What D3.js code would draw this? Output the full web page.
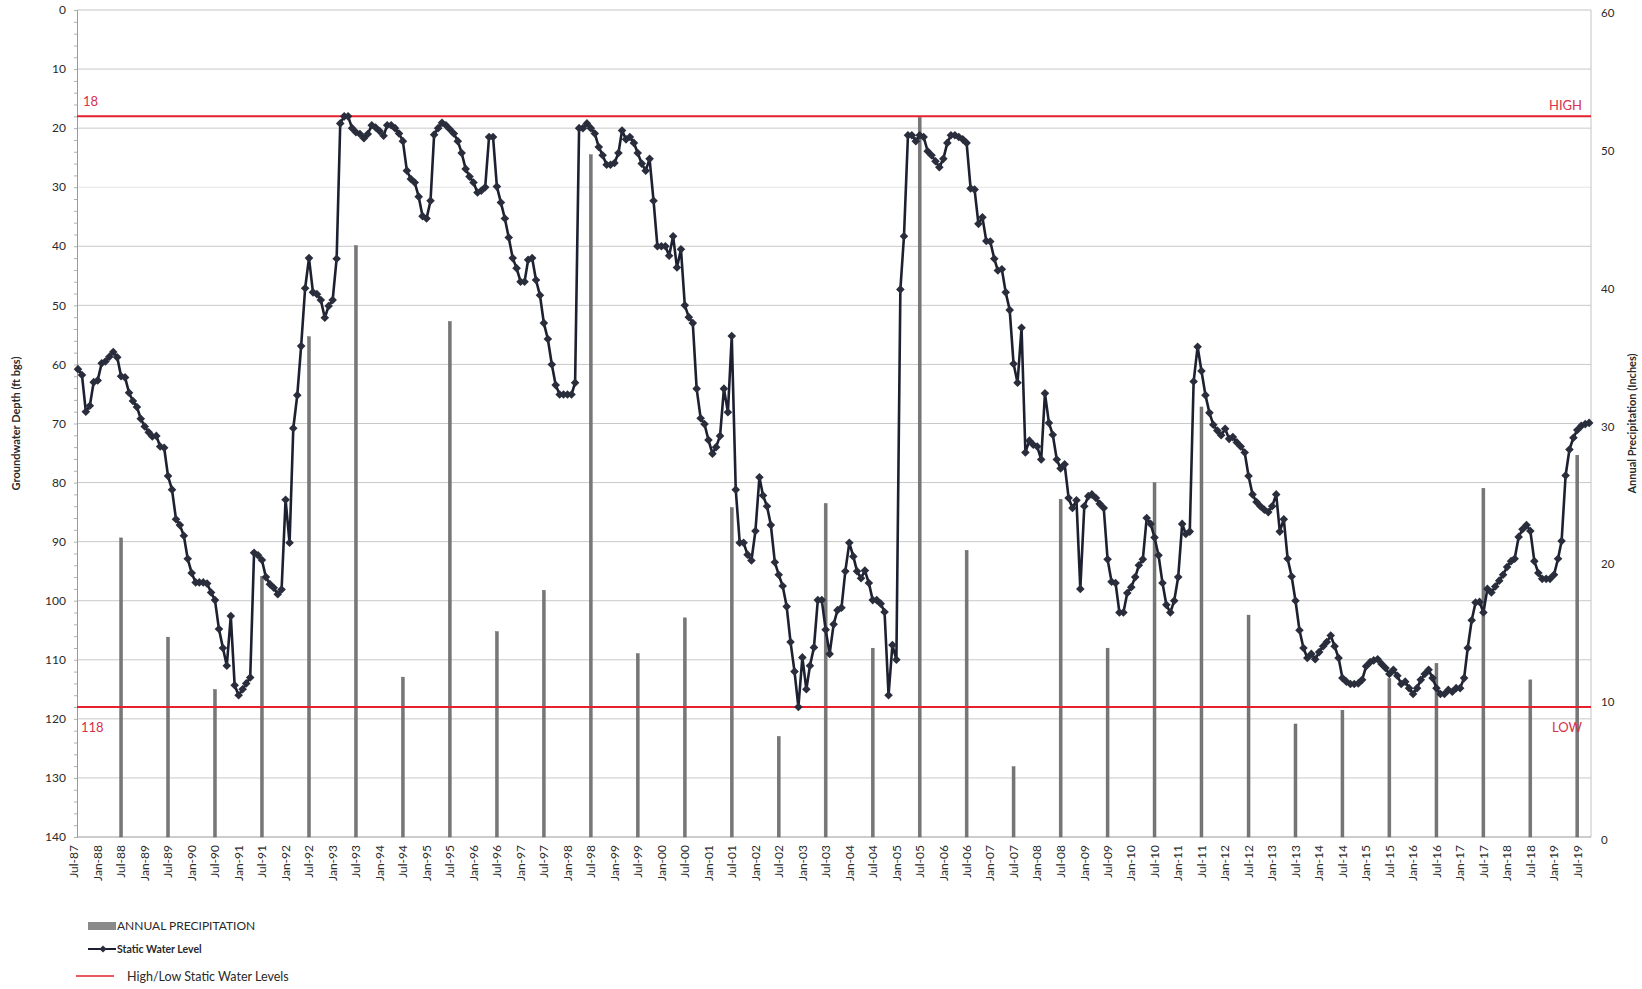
<!DOCTYPE html>
<html><head><meta charset="utf-8">
<script src="https://cdn.jsdelivr.net/npm/d3@7"></script>
<style>
body{margin:0;background:#fff;}
svg{display:block;font-family:"Lato","Liberation Sans",sans-serif;}
</style></head><body>
<svg id="chart" width="1642" height="989"></svg>
<script>
// ---------- DATA ----------
const levelStart = "1987-08"; // first monthly reading
const levelValues = [
 60.8,61.8,68.0,67.0,63.0,62.7,59.8,59.5,58.7,57.9,58.8,62.0,
 62.2,64.8,66.2,67.2,69.2,70.5,71.5,72.2,72.1,73.9,74.1,78.9,
 81.2,86.2,87.2,89.0,92.9,95.3,96.9,96.9,96.9,97.1,98.6,99.9,
 104.8,108.0,111.0,102.6,114.3,116.0,115.0,114.0,113.0,91.9,92.3,93.1,
 96.0,97.2,97.8,98.9,98.1,82.9,90.2,70.8,65.2,56.9,47.1,42.0,
 47.8,48.1,49.1,52.1,50.1,49.1,42.1,19.2,18.0,18.0,20.0,20.7,
 21.0,21.7,21.0,19.5,19.9,20.5,21.3,19.5,19.5,20.0,20.9,22.2,
 27.2,28.6,29.2,31.6,34.9,35.3,32.3,21.1,20.0,19.1,19.5,20.2,
 20.9,22.2,24.2,26.9,28.2,29.2,30.9,30.6,30.0,21.5,21.5,29.9,
 32.6,35.3,38.5,42.0,43.7,46.0,46.0,42.3,42.0,45.7,48.3,53.0,
 55.7,60.0,63.5,65.1,65.1,65.1,65.1,63.1,20.0,20.0,19.2,20.0,
 20.9,23.2,24.6,26.2,26.2,25.9,24.2,20.4,21.9,21.5,22.5,24.2,
 26.0,27.2,25.2,32.3,40.0,40.0,40.0,41.6,38.3,43.6,40.5,50.0,
 52.0,53.0,64.1,69.1,70.1,72.8,75.1,74.0,72.1,64.1,68.1,55.2,
 81.2,90.2,90.2,92.2,93.2,88.2,79.1,82.2,84.0,87.2,93.5,95.6,
 97.5,101.0,107.0,112.0,118.0,109.6,115.0,111.0,107.9,99.9,99.9,104.9,
 109.0,104.0,101.6,101.2,95.0,90.2,92.5,95.0,96.2,94.9,97.0,99.9,
 99.9,100.5,101.9,116.0,107.5,110.0,47.3,38.3,21.2,21.2,22.2,21.2,
 21.5,23.9,24.6,25.6,26.6,25.2,22.5,21.2,21.2,21.5,21.9,22.5,
 30.2,30.4,36.2,35.1,39.1,39.2,42.1,44.1,43.9,47.8,50.8,59.9,
 63.1,53.8,74.9,72.9,73.6,73.9,76.1,64.9,69.9,71.9,76.1,77.6,
 76.9,82.6,84.3,83.0,98.0,84.0,82.3,82.0,82.6,83.6,84.3,93.0,
 96.8,97.0,102.0,102.0,98.7,97.7,96.0,94.0,93.0,86.0,87.0,89.3,
 92.3,97.0,100.7,102.0,100.0,96.0,87.0,88.7,88.3,62.9,57.0,61.1,
 65.2,68.2,70.2,71.2,72.0,70.9,72.6,72.3,73.2,73.9,74.9,78.9,
 82.0,83.3,84.0,84.6,85.0,84.0,82.0,88.3,86.2,92.9,95.9,100.0,
 105.0,108.0,109.7,109.0,109.9,108.7,107.7,107.0,105.9,107.7,109.7,113.1,
 113.7,114.1,114.1,114.0,113.4,111.1,110.4,110.1,109.9,110.7,111.4,112.4,
 111.7,112.7,114.1,113.7,114.8,115.8,114.8,113.4,112.4,111.7,113.1,114.8,
 115.8,115.8,115.1,115.4,114.8,114.8,113.1,108.0,103.3,100.3,100.2,102.0,
 98.0,98.6,97.6,96.6,95.6,94.3,93.3,92.9,89.2,87.9,87.2,88.2,
 93.3,95.3,96.3,96.3,96.3,95.6,92.9,89.9,78.8,74.4,72.4,71.1,
 70.4,70.1,69.9
];
const precipYears = [1988,1989,1990,1991,1992,1993,1994,1995,1996,1997,1998,1999,2000,2001,2002,2003,
 2004,2005,2006,2007,2008,2009,2010,2011,2012,2013,2014,2015,2016,2017,2018,2019];
const precipValues = [21.7,14.5,10.7,18.9,36.3,42.9,11.6,37.4,14.9,17.9,49.5,13.3,15.9,23.9,7.3,24.2,
 13.7,52.2,20.8,5.1,24.5,13.7,25.7,31.2,16.1,8.2,9.2,11.5,12.6,25.3,11.4,27.7];
const leftTicks = [0,10,20,30,40,50,60,70,80,90,100,110,120,130,140];
const rightTicks = [0,10,20,30,40,50,60];
const xTickLabels = ["Jul-87","Jan-88","Jul-88","Jan-89","Jul-89","Jan-90","Jul-90","Jan-91","Jul-91","Jan-92",
 "Jul-92","Jan-93","Jul-93","Jan-94","Jul-94","Jan-95","Jul-95","Jan-96","Jul-96","Jan-97","Jul-97","Jan-98",
 "Jul-98","Jan-99","Jul-99","Jan-00","Jul-00","Jan-01","Jul-01","Jan-02","Jul-02","Jan-03","Jul-03","Jan-04",
 "Jul-04","Jan-05","Jul-05","Jan-06","Jul-06","Jan-07","Jul-07","Jan-08","Jul-08","Jan-09","Jul-09","Jan-10",
 "Jul-10","Jan-11","Jul-11","Jan-12","Jul-12","Jan-13","Jul-13","Jan-14","Jul-14","Jan-15","Jul-15","Jan-16",
 "Jul-16","Jan-17","Jul-17","Jan-18","Jul-18","Jan-19","Jul-19"];
const highLevel = 18, lowLevel = 118;
const highLabel = "HIGH", lowLabel = "LOW";

// ---------- LAYOUT ----------
const svg = d3.select("#chart");
const plotL = 77, plotR = 1591, plotT = 10, plotB = 837;
const x = d3.scaleTime().domain([new Date(1987,6,1), new Date(2019,6,1)]).range([74, 1577.3]);
const yL = d3.scaleLinear().domain([0,140]).range([plotT, plotB]);
const yR = d3.scaleLinear().domain([0,60]).range([plotB, plotT]);
const parseMonth = d3.timeParse("%Y-%m");
const parseTick = d3.timeParse("%b-%y");
const start = parseMonth(levelStart);
const level = levelValues.map((v,i)=>({date:d3.timeMonth.offset(start,i), v}));
const precip = precipYears.map((yr,i)=>({date:new Date(yr,6,1), v:precipValues[i]}));

const textCol = "#2a2a2a";
const red = "#e3222e", redText = "#d8304c";

// gridlines
svg.append("g").selectAll("line").data(leftTicks.filter(t=>t>0 && t<140)).join("line")
  .attr("x1",plotL).attr("x2",plotR).attr("y1",d=>yL(d)).attr("y2",d=>yL(d))
  .attr("stroke",d=>d===30?"#e4e4e4":"#c9c9c9").attr("stroke-width",1);
// border top & right
svg.append("line").attr("x1",plotL).attr("x2",plotR).attr("y1",plotT).attr("y2",plotT).attr("stroke","#c4c4c4");
svg.append("line").attr("x1",plotR).attr("x2",plotR).attr("y1",plotT).attr("y2",plotB).attr("stroke","#c4c4c4");

// left axis
const gL = svg.append("g").attr("transform",`translate(${plotL},0)`)
  .call(d3.axisLeft(yL).tickValues(d3.range(0,141,2)).tickSize(3).tickFormat(""));
gL.select(".domain").attr("stroke","#9a9a9a");
gL.selectAll(".tick line").attr("stroke","#b0b0b0");
svg.append("g").selectAll("text").data(leftTicks).join("text")
  .attr("x",66).attr("y",d=>yL(d)).attr("dy","0.35em").attr("text-anchor","end")
  .attr("font-size",12).attr("fill",textCol).text(d=>d);

// right axis labels
svg.append("g").selectAll("text").data(rightTicks).join("text")
  .attr("x",1601).attr("y",d=>yR(d)+3).attr("dy","0.35em").attr("text-anchor","start")
  .attr("font-size",11.5).attr("fill",textCol).text(d=>d);

// bottom axis
svg.append("line").attr("x1",plotL).attr("x2",plotR).attr("y1",plotB).attr("y2",plotB).attr("stroke","#9a9a9a");
svg.append("g").selectAll("text").data(xTickLabels).join("text")
  .attr("transform",d=>`translate(${x(parseTick(d))},845) rotate(-90)`)
  .attr("dy","0.35em").attr("text-anchor","end").attr("font-size",12).attr("fill",textCol).text(d=>d);

// precipitation bars
svg.append("g").selectAll("rect").data(precip).join("rect")
  .attr("x",d=>x(d.date)-1.5).attr("width",3)
  .attr("y",d=>yR(d.v)).attr("height",d=>yR(0)-yR(d.v))
  .attr("fill","#777").attr("stroke","#5e5e5e").attr("stroke-width",0.4);

// high/low lines
[highLevel, lowLevel].forEach(v=>{
  svg.append("line").attr("x1",plotL).attr("x2",plotR).attr("y1",yL(v)).attr("y2",yL(v))
    .attr("stroke",red).attr("stroke-width",2);
});
svg.append("text").attr("x",83).attr("y",yL(highLevel)-10).attr("font-size",13).attr("fill",redText).text(highLevel);
svg.append("text").attr("x",81).attr("y",yL(lowLevel)+25).attr("font-size",13).attr("fill",redText).text(lowLevel);
svg.append("text").attr("x",1582).attr("y",yL(highLevel)-6).attr("text-anchor","end").attr("font-size",13).attr("fill",redText).text(highLabel);
svg.append("text").attr("x",1582).attr("y",yL(lowLevel)+25).attr("text-anchor","end").attr("font-size",13).attr("fill",redText).text(lowLabel);

// water level line + markers
const lineCol = "#1d2030";
svg.append("path").datum(level)
  .attr("d",d3.line().x(d=>x(d.date)).y(d=>yL(d.v)))
  .attr("fill","none").attr("stroke",lineCol).attr("stroke-width",2.6).attr("stroke-linejoin","round");
const diamond = r=>`M0,${-r}L${r},0L0,${r}L${-r},0Z`;
svg.append("g").selectAll("path").data(level).join("path")
  .attr("transform",d=>`translate(${x(d.date)},${yL(d.v)})`)
  .attr("d",diamond(4.3)).attr("fill","#2a2e3c");

// axis titles
svg.append("text").attr("transform",`translate(16,${(plotT+plotB)/2}) rotate(-90)`)
  .attr("text-anchor","middle").attr("dy","0.35em").attr("font-size",11).attr("font-weight","bold")
  .attr("fill",textCol).text("Groundwater Depth (ft bgs)");
svg.append("text").attr("transform",`translate(1632,${(plotT+plotB)/2}) rotate(-90)`)
  .attr("text-anchor","middle").attr("dy","0.35em").attr("font-size",11).attr("font-weight","bold")
  .attr("fill",textCol).text("Annual Precipitation (Inches)");

// legend
const lg = svg.append("g");
lg.append("rect").attr("x",88).attr("y",922).attr("width",28).attr("height",8).attr("fill","#8a8a8a");
lg.append("text").attr("x",117).attr("y",930).attr("font-size",12).attr("fill",textCol).text("ANNUAL PRECIPITATION");
lg.append("line").attr("x1",88).attr("x2",116).attr("y1",949).attr("y2",949).attr("stroke",lineCol).attr("stroke-width",2);
lg.append("path").attr("transform","translate(103,949)").attr("d",diamond(3.6)).attr("fill","#2a2e3c");
lg.append("text").attr("x",117).attr("y",953).attr("font-size",10.5).attr("font-weight","bold").attr("fill",textCol).text("Static Water Level");
lg.append("line").attr("x1",76).attr("x2",114).attr("y1",976).attr("y2",976).attr("stroke",red).attr("stroke-width",1.5);
lg.append("text").attr("x",127).attr("y",981).attr("font-size",12.5).attr("fill",textCol).text("High/Low Static Water Levels");
</script>
</body></html>
